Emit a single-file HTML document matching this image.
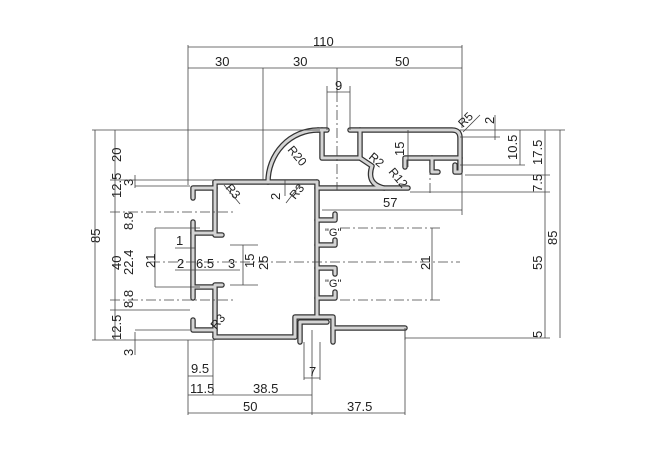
<!DOCTYPE html>
<html><head><meta charset="utf-8"><style>
html,body{margin:0;padding:0;background:#fff;}
svg{display:block;font-family:"Liberation Sans",sans-serif;}
.o{fill:none;stroke:#333;stroke-width:5.5;stroke-linejoin:round;stroke-linecap:round}
.i{fill:none;stroke:#d4d4d4;stroke-width:3;stroke-linejoin:round;stroke-linecap:round}
.d{stroke:#444;stroke-width:0.8;fill:none}
.c{stroke:#444;stroke-width:0.8;fill:none;stroke-dasharray:10 3 2 3}
text{font-size:13px;fill:#222}
</style></head><body>
<svg width="650" height="450" viewBox="0 0 650 450">
<defs>
<g id="prof">
<path d="M215,182 L215,233 L193,233 L193,287 L215,287 L215,337"/>
<path d="M215,182 L317,182"/>
<path d="M317,182 L317,317"/>
<path d="M215,337 L295,337"/>
<path d="M215,188 L193,188 L193,198"/>
<path d="M193,233 L193,222"/>
<path d="M193,287 L193,298"/>
<path d="M215,330 L193,330 L193,320"/>
<path d="M215,235 L222,235 M215,285 L222,285"/>
<path d="M317,220 L335,220 L335,214"/>
<path d="M317,245 L335,245 L335,240"/>
<path d="M317,268 L335,268 L335,274"/>
<path d="M317,298 L335,298 L335,292"/>
<path d="M295,337 L295,317 L333,317 L333,342"/>
<path d="M300,342 L300,322 L327,322"/>
<path d="M333,328 L405,328"/>
<path d="M268,182 A50,52 0 0 1 318,130"/>
<path d="M318,130 L327,130 M350,130 L452,130 Q460,130 460,138 L460,172 L455,172 L455,165"/>
<path d="M322,130 L322,158 L360,158 L360,130"/>
<path d="M360,158 L372,166 Q366,184 384,188"/>
<path d="M317,188 L408,188"/>
<path d="M460,158 L432,158 L432,172 L438,172"/>
<path d="M432,158 L405,158 L405,167"/>
</g>
</defs>
<g class="o"><use href="#prof"/></g>
<g class="i"><use href="#prof"/></g>

<path class="d" d="M188,47 L462,47 M188,68 L462,68 M188,45 L188,185 M263,68 L263,180 M462,45 L462,128 M337,68 L337,92 M327,92 L350,92 M327,86 L327,130 M350,86 L350,130"/>
<path class="c" d="M337,92 L337,190"/>
<text x="313" y="46">110</text>
<text x="215" y="66">30</text>
<text x="293" y="66">30</text>
<text x="395" y="66">50</text>
<text x="335" y="90">9</text>

<path class="d" d="M95,130 L95,340 M115,130 L115,340 M92,130 L320,130 M110,180 L215,180 M110,310 L190,310 M92,340 L215,340 M135,186 L190,186 M135,188 L135,175 M135,330 L190,330 M135,332 L135,355 M155,228 L200,228 M155,287 L200,287 M155,228 L155,287 M175,248 L195,248 M175,270 L240,270 M243,245 L243,285 M230,245 L258,245 M230,285 L258,285"/>
<path class="c" d="M110,212 L233,212 M110,300 L233,300 M150,262 L460,262"/>
<g>
<text transform="translate(100,243) rotate(-90)">85</text>
<text transform="translate(121,162) rotate(-90)">20</text>
<text transform="translate(121,198) rotate(-90)">12.5</text>
<text transform="translate(133,230) rotate(-90)">8.8</text>
<text transform="translate(121,270) rotate(-90)">40</text>
<text transform="translate(133,275) rotate(-90)">22.4</text>
<text transform="translate(155,268) rotate(-90)">21</text>
<text transform="translate(133,308) rotate(-90)">8.8</text>
<text transform="translate(121,340) rotate(-90)">12.5</text>
<text transform="translate(133,186) rotate(-90)">3</text>
<text transform="translate(133,356) rotate(-90)">3</text>
<text transform="translate(254,268) rotate(-90)">15</text>
<text transform="translate(268,270) rotate(-90)">25</text>
</g>
<text x="176" y="245">1</text>
<text x="177" y="268">2</text>
<text x="196" y="268">6.5</text>
<text x="228" y="268">3</text>
<text x="325" y="236" style="font-size:11px">"G"</text>
<text x="325" y="287" style="font-size:11px">"G"</text>

<text transform="translate(225,188) rotate(50)" style="font-size:12px">R3</text>
<text transform="translate(295,200) rotate(-50)" style="font-size:12px">R3</text>
<text transform="translate(216,330) rotate(-50)" style="font-size:12px">R3</text>
<text transform="translate(287,150) rotate(50)" style="font-size:12px">R20</text>
<text transform="translate(368,158) rotate(40)" style="font-size:12px">R2</text>
<text transform="translate(388,172) rotate(50)" style="font-size:12px">R12</text>
<text transform="translate(463,128) rotate(-45)" style="font-size:12px">R5</text>
<text transform="translate(280,200) rotate(-90)">2</text>
<path class="d" d="M285,180 L285,196 M224,185 L240,204 M300,185 L286,203 M408,130 L408,167 M463,132 L480,115"/>
<text transform="translate(404,156) rotate(-90)">15</text>

<path class="d" d="M460,130 L565,130 M460,137 L500,137 M460,165 L525,165 M465,175 L550,175 M410,192 L550,192 M405,338 L550,338 M520,130 L520,165 M545,130 L545,338 M560,130 L560,338 M495,115 L495,140 M322,210 L462,210 M462,172 L462,215 M432,228 L432,300 M405,328 L405,340"/>
<path class="c" d="M340,228 L440,228 M340,300 L440,300 M430,165 L430,195"/>
<text transform="translate(494,124) rotate(-90)">2</text>
<text transform="translate(517,160) rotate(-90)">10.5</text>
<text transform="translate(542,165) rotate(-90)">17.5</text>
<text transform="translate(542,192) rotate(-90)">7.5</text>
<text transform="translate(542,270) rotate(-90)">55</text>
<text transform="translate(557,245) rotate(-90)">85</text>
<text transform="translate(542,338) rotate(-90)">5</text>
<text transform="translate(430,270) rotate(-90)">21</text>
<text x="383" y="207">57</text>

<path class="d" d="M188,340 L188,415 M213,340 L213,395 M188,376 L213,376 M188,395 L312,395 M188,413 L405,413 M312,330 L312,415 M304,342 L304,380 M320,342 L320,380 M304,378 L320,378 M405,330 L405,415"/>
<text x="191" y="373">9.5</text>
<text x="190" y="393">11.5</text>
<text x="253" y="393">38.5</text>
<text x="243" y="411">50</text>
<text x="347" y="411">37.5</text>
<text x="309" y="376">7</text>
</svg>
</body></html>
